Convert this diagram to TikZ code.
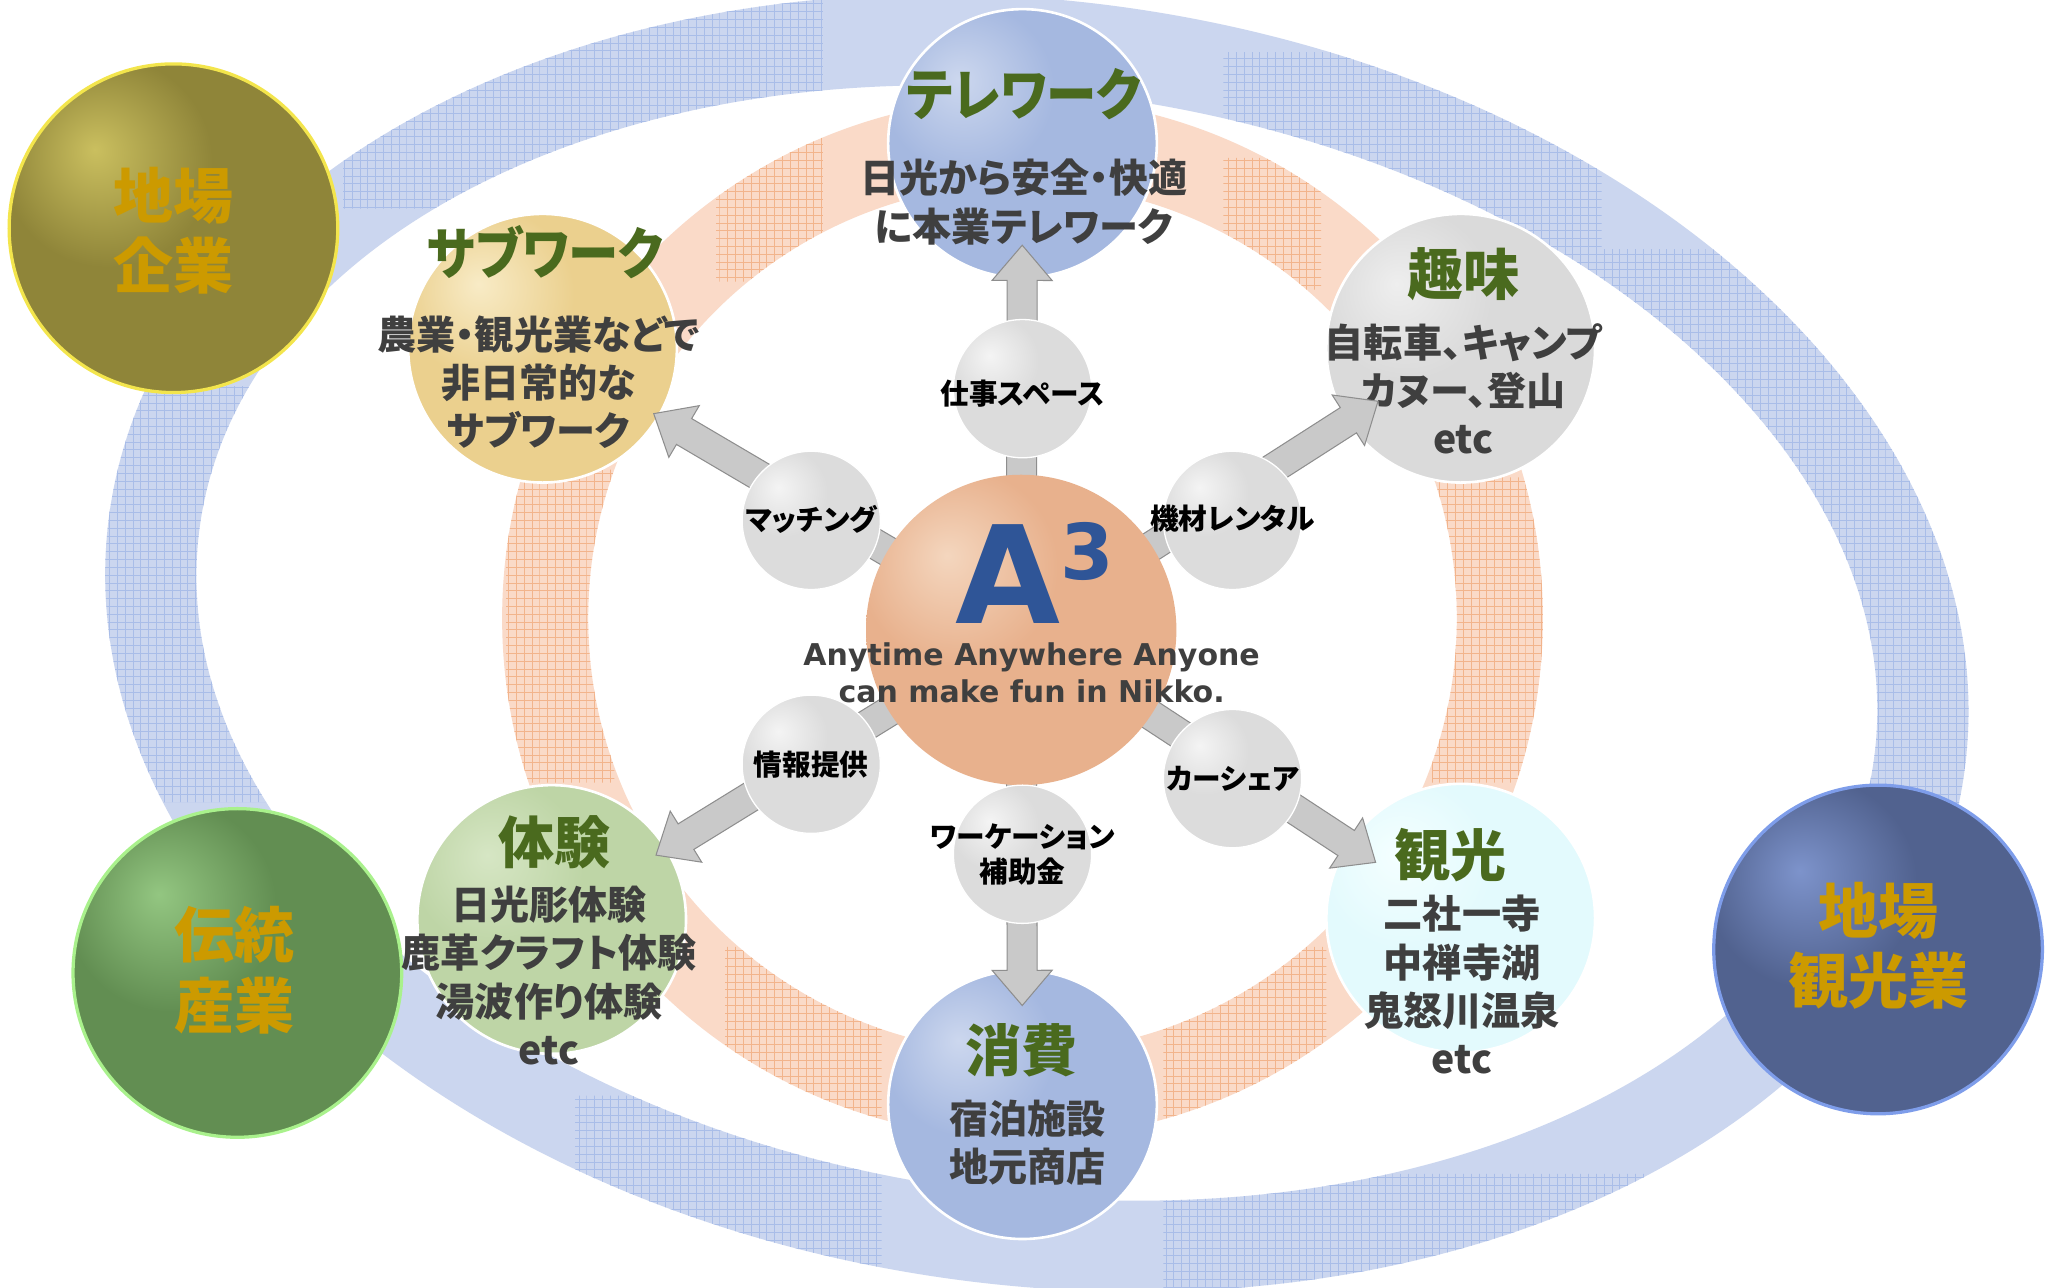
\documentclass[tikz,border=0pt]{standalone}
\usepackage{fontspec}
\usetikzlibrary{calc,patterns}
\newfontfamily\jp{Noto Sans CJK JP}[RawFeature=+palt]
\newfontfamily\jpn{Noto Sans CJK JP}[RawFeature=+palt, FakeStretch=0.9]
\newfontfamily\en{DejaVu Sans}

\definecolor{ringblue}{HTML}{CBD6EF}
\definecolor{ringblueh}{HTML}{A9BDE8}
\definecolor{ringsal}{HTML}{FADAC8}
\definecolor{ringsalh}{HTML}{F2B48C}
\definecolor{titlegreen}{HTML}{4A6A1E}
\definecolor{bodygray}{HTML}{3F3F3F}
\definecolor{goldtxt}{HTML}{CC9A00}
\definecolor{a3blue}{HTML}{2F5597}
\definecolor{arrfill}{HTML}{C9C9C9}
\definecolor{arrline}{HTML}{8E8E8E}

\definecolor{jiHi}{HTML}{CABF5F}\definecolor{jiBa}{HTML}{8F8539}\definecolor{jiEd}{HTML}{7E742F}\definecolor{jiBd}{HTML}{F3E54C}
\definecolor{deHi}{HTML}{93C681}\definecolor{deBa}{HTML}{628E52}\definecolor{deEd}{HTML}{587F49}\definecolor{deBd}{HTML}{A9F18C}
\definecolor{kgHi}{HTML}{7D93CB}\definecolor{kgBa}{HTML}{51628F}\definecolor{kgEd}{HTML}{4A5A87}\definecolor{kgBd}{HTML}{7E9DEA}
\definecolor{blHi}{HTML}{CCD7EE}\definecolor{blBa}{HTML}{A5B8E0}\definecolor{blEd}{HTML}{8EA6D6}
\definecolor{goHi}{HTML}{F8EBC6}\definecolor{goBa}{HTML}{EBD08E}\definecolor{goEd}{HTML}{DDBA66}
\definecolor{grHi}{HTML}{EEEEEE}\definecolor{grBa}{HTML}{DADADA}\definecolor{grEd}{HTML}{C8C8C8}
\definecolor{lgHi}{HTML}{D6E6C4}\definecolor{lgBa}{HTML}{BED5A6}\definecolor{lgEd}{HTML}{ABC590}
\definecolor{cyHi}{HTML}{F4FFFF}\definecolor{cyBa}{HTML}{E3FAFD}\definecolor{cyEd}{HTML}{D3F4F9}
\definecolor{saHi}{HTML}{F4D6BE}\definecolor{saBa}{HTML}{E8B18D}\definecolor{saEd}{HTML}{DC9E78}
\definecolor{smHi}{HTML}{F4F4F4}\definecolor{smBa}{HTML}{DCDCDC}\definecolor{smEd}{HTML}{C4C4C4}

\newcommand\mksh[4]{\pgfdeclareradialshading{#1}{\pgfpoint{-12bp}{12bp}}{color(0bp)=(#2); color(16bp)=(#3); color(40bp)=(#3); color(50bp)=(#4); color(100bp)=(#4)}}
\mksh{shJi}{jiHi}{jiBa}{jiEd}
\mksh{shDe}{deHi}{deBa}{deEd}
\mksh{shKg}{kgHi}{kgBa}{kgEd}
\mksh{shBl}{blHi}{blBa}{blEd}
\mksh{shGo}{goHi}{goBa}{goEd}
\mksh{shGr}{grHi}{grBa}{grEd}
\mksh{shLg}{lgHi}{lgBa}{lgEd}
\mksh{shCy}{cyHi}{cyBa}{cyEd}
\mksh{shSa}{saHi}{saBa}{saEd}
\mksh{shSm}{smHi}{smBa}{smEd}

\pgfdeclarepatternformonly{fgrid}{\pgfqpoint{-0.5pt}{-0.5pt}}{\pgfqpoint{6.5pt}{6.5pt}}{\pgfqpoint{6pt}{6pt}}{%
  \pgfsetlinewidth{0.7pt}%
  \pgfpathmoveto{\pgfqpoint{0pt}{0pt}}\pgfpathlineto{\pgfqpoint{6.2pt}{0pt}}%
  \pgfpathmoveto{\pgfqpoint{0pt}{0pt}}\pgfpathlineto{\pgfqpoint{0pt}{6.2pt}}%
  \pgfusepath{stroke}}

\newcommand\blockarrow[2]{%
  \draw[arrowsty] let \p1=($(#2)-(#1.center)$), \n1={atan2(\y1,\x1)}, \n2={veclen(\x1,\y1)} in
   [shift={(#1.center)}, rotate=\n1] (0,-11.5) -- ({\n2-27},-11.5) -- ({\n2-27},-23) -- (\n2,0)
   -- ({\n2-27},23) -- ({\n2-27},11.5) -- (0,11.5) -- cycle;}

\pgfdeclarelayer{bglayer}\pgfdeclarelayer{ringlayer}\pgfdeclarelayer{circlayer}\pgfdeclarelayer{arrlayer}
\pgfsetlayers{bglayer,ringlayer,circlayer,arrlayer,main}

\begin{document}
\begin{tikzpicture}[x=1pt,y=-1pt,
  bigc/.style={circle, minimum size=252pt, inner sep=0pt, line width=2.5pt},
  medc/.style={circle, minimum size=206pt, inner sep=0pt, draw=white, line width=2pt},
  smallc/.style={circle, minimum size=106pt, inner sep=0pt, shading=shSm, draw=white, line width=1pt},
  ttl/.style={font=\jp\bfseries\fontsize{43}{48}\selectfont, text=titlegreen, inner sep=0pt},
  ttlk/.style={font=\jpn\bfseries\fontsize{43}{48}\selectfont, text=titlegreen, inner sep=0pt},
  bdy/.style={font=\jp\bfseries\fontsize{30}{37}\selectfont, text=bodygray, align=center, inner sep=0pt},
  bigt/.style={font=\jp\bfseries\fontsize{46}{54}\selectfont, text=goldtxt, align=center, inner sep=0pt},
  lbl/.style={font=\jp\bfseries\fontsize{22}{27}\selectfont, text=black, align=center, inner sep=0pt},
  arrowsty/.style={fill=arrfill, draw=arrline, line width=0.8pt, line join=miter}]

\begin{pgfonlayer}{bglayer}
\fill[white] (0,0) rectangle (1568,987);
\end{pgfonlayer}
\useasboundingbox (0,0) rectangle (1568,987);

% ---------- rings ----------
\begin{pgfonlayer}{ringlayer}
\begin{scope}[shift={(795,493)},rotate=-8]
  \fill[ringblue, even odd rule] (0,0) ellipse [x radius=718pt, y radius=492pt]
                                 (0,0) ellipse [x radius=648pt, y radius=422pt];
\end{scope}
\begin{scope}
  \clip (263,0) rectangle (631,160) (70,296) rectangle (235,615) (441,840) rectangle (676,990)
        (892,900) rectangle (1290,990) (938,40) rectangle (1228,222) (1228,191) rectangle (1568,620);
  \begin{scope}[shift={(795,493)},rotate=-8]
    \fill[pattern=fgrid, pattern color=ringblueh, even odd rule] (0,0) ellipse [x radius=718pt, y radius=492pt]
                                 (0,0) ellipse [x radius=648pt, y radius=422pt];
  \end{scope}
\end{scope}
\fill[ringsal, even odd rule] (784,474) circle [radius=399pt] (784,474) circle [radius=333pt];
\begin{scope}
  \clip (549,105) rectangle (631,216) (938,121) rectangle (1013,222) (388,360) rectangle (471,600)
        (1098,366) rectangle (1183,600) (556,726) rectangle (676,866) (892,726) rectangle (1017,863);
  \fill[pattern=fgrid, pattern color=ringsalh, even odd rule] (784,474) circle [radius=399pt] (784,474) circle [radius=333pt];
\end{scope}
\end{pgfonlayer}

% ---------- big and medium circles ----------
\begin{pgfonlayer}{circlayer}
\node[bigc, shading=shJi, draw=jiBd] (jiba) at (133,175) {};
\node[bigt] (jiba-t) at (133,177) {地場\\企業};
\node[bigc, shading=shDe, draw=deBd] (dento) at (182,746) {};
\node[bigt] (dento-t) at (180,744) {伝統\\産業};
\node[bigc, shading=shKg, draw=kgBd] (kgy) at (1440,728) {};
\node[bigt] (kgy-t) at (1440,725) {地場\\観光業};

\node[medc, shading=shBl] (tele) at (784,110) {};
\node[ttlk] (tele-h) at (785,72) {テレワーク};
\node[bdy] (tele-b) at (785,155) {日光から安全・快適\\に本業テレワーク};

\node[medc, shading=shGo] (sub) at (416,267) {};
\node[ttlk] (sub-h) at (418,193) {サブワーク};
\node[bdy] (sub-b) at (413,293) {農業・観光業などで\\非日常的な\\サブワーク};

\node[medc, shading=shGr] (shumi) at (1120,267) {};
\node[ttl] (shumi-h) at (1122,210) {趣味};
\node[bdy] (shumi-b) at (1122,298) {自転車、キャンプ\\カヌー、登山\\etc};

\node[medc, shading=shLg] (taiken) at (423,705) {};
\node[ttl] (taiken-h) at (425,646) {体験};
\node[bdy] (taiken-b) at (421,748) {日光彫体験\\鹿革クラフト体験\\湯波作り体験\\etc};

\node[medc, shading=shCy] (kanko) at (1120,704) {};
\node[ttl] (kanko-h) at (1112,656) {観光};
\node[bdy] (kanko-b) at (1121,755) {二社一寺\\中禅寺湖\\鬼怒川温泉\\etc};

\node[medc, shading=shBl] (shohi) at (784,847) {};
\node[ttl] (shohi-h) at (783,805) {消費};
\node[bdy] (shohi-b) at (788,876) {宿泊施設\\地元商店};
\end{pgfonlayer}

% ---------- centre ----------
\node[circle, minimum size=238pt, inner sep=0pt, shading=shSa] (a3) at (783,483) {};
\node[font=\en\bfseries\fontsize{104}{104}\selectfont, text=a3blue, inner sep=0pt, anchor=base,
      text height=76pt, text depth=0pt] (a3A) at (773,478) {A};
\node[font=\en\bfseries\fontsize{59}{59}\selectfont, text=a3blue, inner sep=0pt, anchor=base west,
      text height=43pt, text depth=0pt] (a3N) at (813,444) {3};
\node[font=\en\bfseries\fontsize{23}{28}\selectfont, text=bodygray, align=center, inner sep=0pt] (a3T) at (791,516)
  {Anytime Anywhere Anyone\\can make fun in Nikko.};

% ---------- small circles ----------
\node[smallc] (s1) at (784,298) {};
\node[lbl] (s1-t) at (784,302) {仕事スペース};
\node[smallc] (s2) at (622,399) {};
\node[lbl] (s2-t) at (622,398) {マッチング};
\node[smallc] (s3) at (945,399) {};
\node[lbl] (s3-t) at (945,398) {機材レンタル};
\node[smallc] (s4) at (622,586) {};
\node[lbl] (s4-t) at (622,586) {情報提供};
\node[smallc] (s5) at (945,597) {};
\node[lbl] (s5-t) at (945,597) {カーシェア};
\node[smallc] (s6) at (784,655) {};
\node[lbl] (s6-t) at (784,655) {ワーケーション\\補助金};

% ---------- arrows ----------
\coordinate (tipT) at ($(a3.center)!295pt!(tele.center)$);
\coordinate (tipUL) at ($(a3.center)!327pt!(sub.center)$);
\coordinate (tipUR) at ($(a3.center)!325pt!(shumi.center)$);
\coordinate (tipDL) at ($(a3.center)!329pt!(taiken.center)$);
\coordinate (tipDR) at ($(a3.center)!325pt!(kanko.center)$);
\coordinate (tipB) at ($(a3.center)!288pt!(shohi.center)$);
\begin{pgfonlayer}{arrlayer}
\blockarrow{a3}{tipT}
\blockarrow{a3}{tipUL}
\blockarrow{a3}{tipUR}
\blockarrow{a3}{tipDL}
\blockarrow{a3}{tipDR}
\blockarrow{a3}{tipB}
\end{pgfonlayer}
\end{tikzpicture}
\end{document}
